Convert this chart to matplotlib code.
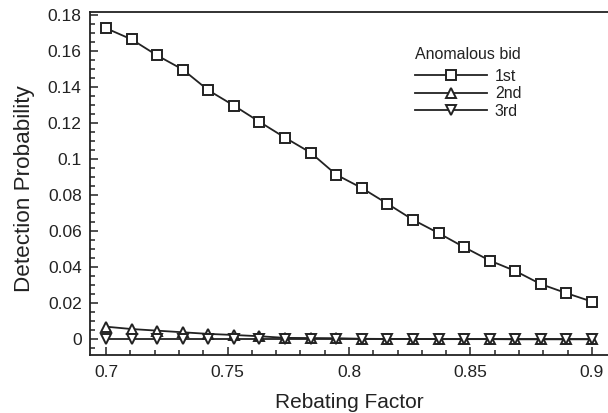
import matplotlib
matplotlib.use('Agg')
import matplotlib.pyplot as plt
from matplotlib.ticker import MultipleLocator
import numpy as np

plt.rcParams['font.family'] = ['Liberation Sans', 'DejaVu Sans']

# rebating factor, 20 steps from 0.7 to 0.9
rebating_factor = np.linspace(0.7, 0.9, 20)

# detection probability for each anomalous bid position
first_bid = [0.1725, 0.1663, 0.1574, 0.1496, 0.1381, 0.1296, 0.1206, 0.1118, 0.1035, 0.0913,
             0.0839, 0.0752, 0.0663, 0.0589, 0.0511, 0.0437, 0.0379, 0.0306, 0.0256, 0.0209]
second_bid = [0.0070, 0.0057, 0.0048, 0.0039, 0.0030, 0.0024, 0.0017, 0.0008, 0.0007, 0.0006,
              0.0003, 0.0002, 0.0002, 0.0001, 0.0001, 0.0001, 0.0, 0.0, 0.0, 0.0]
third_bid = [0.0] * 20

labels = ['1st', '2nd', '3rd']
markers = ['s', '^', 'v']

ink = '#222222'

fig = plt.figure(figsize=(6.08, 4.13), dpi=100)
ax = fig.add_axes([90 / 608, 1 - 355 / 413, 518 / 608, 343 / 413])

for series, label, marker in zip([first_bid, second_bid, third_bid], labels, markers):
    ax.plot(rebating_factor, series, color=ink, linewidth=1.3, marker=marker,
            markersize=7.5, markerfacecolor='white', markeredgecolor=ink,
            markeredgewidth=1.4, label=label)

ax.set_xlim(0.6934, 0.9066)
ax.set_ylim(-0.0087, 0.1815)

ax.xaxis.set_minor_locator(MultipleLocator(0.01))
ax.yaxis.set_minor_locator(MultipleLocator(0.005))
ax.set_xticks([0.7, 0.75, 0.8, 0.85, 0.9])
ax.set_xticklabels(['0.7', '0.75', '0.8', '0.85', '0.9'])
ax.set_yticks(np.arange(0, 0.181, 0.02))
ax.set_yticklabels(['0', '0.02', '0.04', '0.06', '0.08', '0.1', '0.12', '0.14', '0.16', '0.18'])

ax.tick_params(which='both', direction='in', top=False, right=False, colors=ink,
               labelsize=12.5, width=1.1)
ax.tick_params(which='major', length=6)
ax.tick_params(which='minor', length=3.5)
ax.tick_params(axis='x', pad=7)
ax.tick_params(axis='y', pad=6)

for side in ['left', 'bottom', 'top']:
    ax.spines[side].set_color(ink)
    ax.spines[side].set_linewidth(1.3)
ax.spines['right'].set_visible(False)

ax.set_xlabel('Rebating Factor', fontsize=15, color=ink, labelpad=9.5)
ax.set_ylabel('Detection Probability', fontsize=16.2, color=ink)
ax.yaxis.set_label_coords(-0.106, 0.485)

leg = fig.legend(loc='upper left', bbox_to_anchor=(415 / 608, 1 - 47 / 413),
                 frameon=False, title='Anomalous bid', alignment='left',
                 fontsize=11.5, title_fontsize=11.5, handlelength=4.5,
                 handletextpad=0.5, labelspacing=0.15, borderpad=0, borderaxespad=0)
leg._legend_box.sep = 5
for t in leg.get_texts():
    t.set_color(ink)
leg.get_title().set_color(ink)

fig.savefig('out.png', dpi=100)
